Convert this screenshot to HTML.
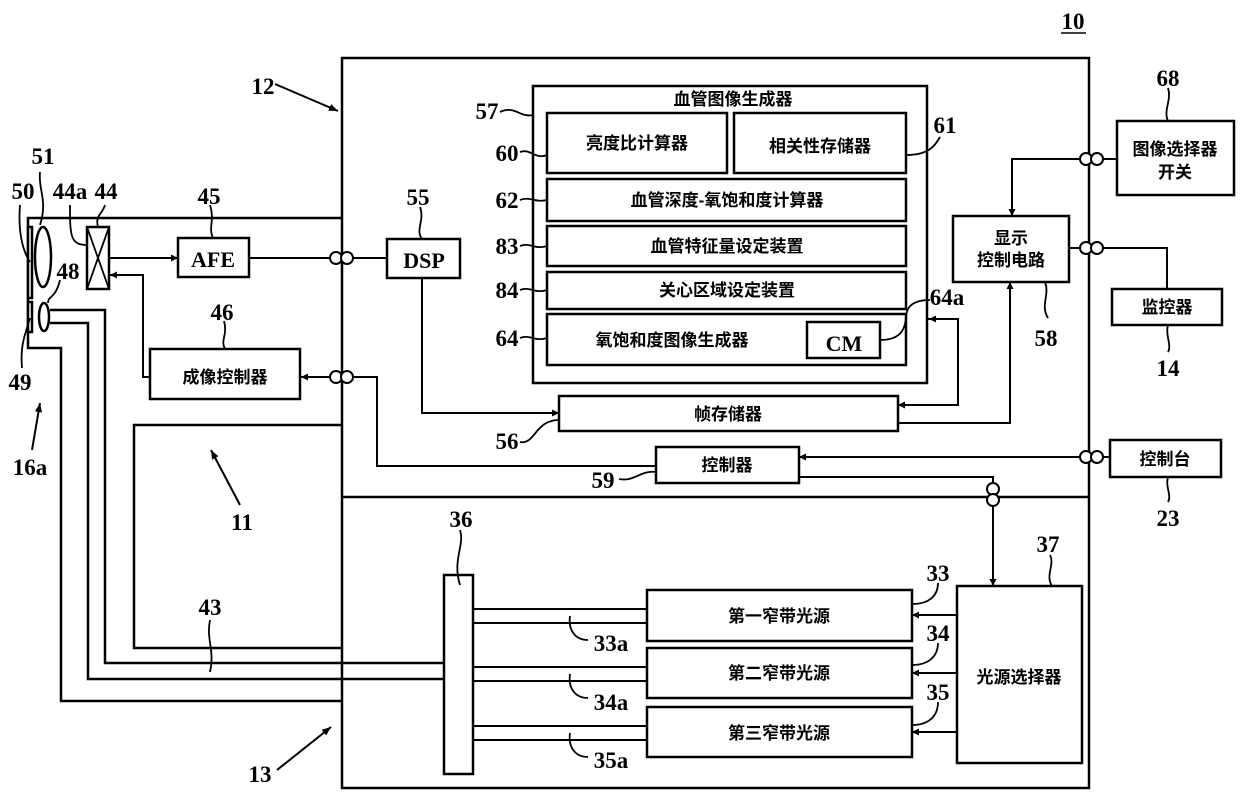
<!DOCTYPE html>
<html><head><meta charset="utf-8"><style>
html,body{margin:0;padding:0;background:#fff;}
svg{display:block;}
.n{font-family:"Liberation Serif",serif;font-weight:bold;font-size:23px;fill:#000;}
.c{font-family:"Liberation Sans","Noto Sans CJK SC",sans-serif;font-weight:bold;font-size:17px;fill:#000;}
</style></head><body>
<svg width="1240" height="802" viewBox="0 0 1240 802" xmlns="http://www.w3.org/2000/svg">
<defs>
<marker id="a" viewBox="0 0 10 10" refX="10" refY="5" markerWidth="9" markerHeight="7" orient="auto" markerUnits="userSpaceOnUse"><path d="M0,0 L10,5 L0,10 z" fill="#000"/></marker>
<marker id="b" viewBox="0 0 10 10" refX="10" refY="5" markerWidth="14" markerHeight="9" orient="auto" markerUnits="userSpaceOnUse"><path d="M0,1 L10,5 L0,9 z" fill="#000"/></marker>
</defs>
<g fill="none" stroke="#000" stroke-width="2.5">
<!-- main box -->
<rect x="342" y="58" width="747" height="730"/>
<line x1="342" y1="497" x2="1089" y2="497"/>
<!-- endoscope -->
<polyline points="342,218 28,218 28,348 61,348 61,701 342,701"/>
<rect x="28" y="227" width="4" height="71" fill="#fff"/>
<rect x="28" y="302" width="4" height="30" fill="#fff"/>
<ellipse cx="43" cy="257" rx="8" ry="30"/>
<ellipse cx="44" cy="317" rx="5" ry="14"/>
<polyline points="50,310 105,310 105,663 444,663"/>
<polyline points="50,323 88,323 88,679 444,679"/>
<polyline points="342,425 134,425 134,648 342,648"/>
<!-- 44 -->
<rect x="87" y="227" width="22" height="62"/>
<line x1="87" y1="227" x2="109" y2="289" stroke-width="1.8"/>
<line x1="109" y1="227" x2="87" y2="289" stroke-width="1.8"/>
<line x1="109" y1="258" x2="178" y2="258" marker-end="url(#a)" stroke-width="2"/>
<rect x="178" y="238" width="71" height="39"/>
<line x1="249" y1="258" x2="335" y2="258" stroke-width="2"/>
<line x1="347" y1="258" x2="387" y2="258" stroke-width="2"/>
<polyline points="150,377 143,377 143,275 110,275" marker-end="url(#a)" stroke-width="2"/>
<rect x="150" y="349" width="150" height="50"/>
<line x1="335" y1="377" x2="301" y2="377" marker-end="url(#a)" stroke-width="2"/>
<polyline points="347,377 377,377 377,466 656,466" stroke-width="2"/>
<!-- DSP -->
<rect x="387" y="239" width="73" height="39"/>
<polyline points="422,278 422,413 559,413" marker-end="url(#a)" stroke-width="2"/>
<!-- 57 -->
<rect x="533" y="86" width="394" height="297"/>
<rect x="547" y="113" width="180" height="60"/>
<rect x="734" y="113" width="172" height="60"/>
<rect x="547" y="179" width="359" height="42"/>
<rect x="547" y="226" width="359" height="40"/>
<rect x="547" y="272" width="359" height="37"/>
<rect x="547" y="314" width="359" height="51"/>
<rect x="807" y="322" width="73" height="36"/>
<!-- frame memory -->
<rect x="559" y="396" width="339" height="35"/>
<rect x="656" y="447" width="143" height="36"/>
<polyline points="927,319 958,319 958,405 898,405" stroke-width="2" marker-end="url(#a)"/>
<line x1="958" y1="319" x2="929" y2="319" stroke-width="2" marker-end="url(#a)"/>
<polyline points="898,423 1010,423 1010,282" stroke-width="2" marker-end="url(#a)"/>
<!-- 58 -->
<rect x="953" y="216" width="116" height="66"/>
<polyline points="1083,159 1012,159 1012,216" stroke-width="2" marker-end="url(#a)"/>
<line x1="1100" y1="159" x2="1117" y2="159" stroke-width="2"/>
<line x1="1069" y1="248" x2="1083" y2="248" stroke-width="2"/>
<polyline points="1100,248 1167,248 1167,289" stroke-width="2"/>
<rect x="1117" y="121" width="117" height="74"/>
<rect x="1112" y="289" width="110" height="36"/>
<rect x="1110" y="440" width="111" height="37"/>
<line x1="1083" y1="457" x2="799" y2="457" stroke-width="2" marker-end="url(#a)"/>
<line x1="1100" y1="457" x2="1110" y2="457" stroke-width="2"/>
<polyline points="799,477 993,477 993,483" stroke-width="2"/>
<line x1="993" y1="506" x2="993" y2="586" stroke-width="2" marker-end="url(#a)"/>
<!-- light -->
<rect x="444" y="575" width="29" height="199"/>
<rect x="647" y="590" width="265" height="51"/>
<rect x="647" y="648" width="265" height="50"/>
<rect x="647" y="707" width="265" height="50"/>
<rect x="957" y="586" width="125" height="177"/>
<g stroke-width="2">
<line x1="473" y1="609" x2="647" y2="609"/><line x1="473" y1="623" x2="647" y2="623"/>
<line x1="473" y1="667" x2="647" y2="667"/><line x1="473" y1="681" x2="647" y2="681"/>
<line x1="473" y1="726" x2="647" y2="726"/><line x1="473" y1="740" x2="647" y2="740"/>
<line x1="957" y1="615" x2="912" y2="615" marker-end="url(#a)"/>
<line x1="957" y1="673" x2="912" y2="673" marker-end="url(#a)"/>
<line x1="957" y1="732" x2="912" y2="732" marker-end="url(#a)"/>
</g>
<!-- connectors -->
<g stroke-width="2" fill="#fff">
<circle cx="336" cy="258" r="6"/><circle cx="347" cy="258" r="6"/>
<circle cx="336" cy="377" r="6"/><circle cx="347" cy="377" r="6"/>
<circle cx="1086" cy="159" r="6"/><circle cx="1097" cy="159" r="6"/>
<circle cx="1086" cy="248" r="6"/><circle cx="1097" cy="248" r="6"/>
<circle cx="1086" cy="457" r="6"/><circle cx="1097" cy="457" r="6"/>
<circle cx="993" cy="489" r="6"/><circle cx="993" cy="500" r="6"/>
</g>
<!-- leaders -->
<g stroke-width="1.8">
<path d="M40,172 C38,190 48,200 40,225"/>
<path d="M20,205 C18,230 22,250 30,262"/>
<path d="M70,205 C70,235 70,245 87,245"/>
<path d="M105,205 C102,215 95,215 98,227"/>
<path d="M60,280 C55,300 48,295 48,303"/>
<path d="M22,368 C20,345 25,335 30,318"/>
<path d="M210,205 C215,220 208,228 213,238"/>
<path d="M420,207 C425,220 415,230 422,239"/>
<path d="M224,321 C228,335 220,340 225,349"/>
<path d="M500,112 C515,105 520,118 533,115"/>
<path d="M520,152 C530,148 535,160 547,155"/>
<path d="M520,200 C530,196 535,203 547,200"/>
<path d="M520,246 C530,242 535,250 547,246"/>
<path d="M520,290 C530,286 535,294 547,290"/>
<path d="M520,338 C530,334 535,342 547,338"/>
<path d="M906,155 C930,155 935,145 940,137"/>
<path d="M880,340 C900,340 905,330 906,318 C906,305 915,300 930,300"/>
<path d="M520,442 C535,445 535,420 559,420"/>
<path d="M619,479 C635,482 640,470 656,472"/>
<path d="M1045,282 C1050,295 1040,305 1048,318"/>
<path d="M1168,88 C1172,100 1163,110 1168,121"/>
<path d="M1168,325 C1165,335 1172,345 1168,352"/>
<path d="M1168,477 C1165,487 1172,495 1168,502"/>
<path d="M1050,555 C1055,565 1045,575 1052,586"/>
<path d="M912,604 C930,604 938,595 938,583"/>
<path d="M912,665 C930,665 938,655 938,643"/>
<path d="M912,725 C930,725 938,715 938,702"/>
<path d="M460,530 C465,545 452,560 460,585"/>
<path d="M570,616 C568,630 575,640 588,640"/>
<path d="M570,674 C568,688 575,698 588,698"/>
<path d="M570,733 C568,747 575,757 588,757"/>
<path d="M210,620 C206,640 215,650 210,672"/>
</g>
<g stroke-width="2">
<line x1="275" y1="84" x2="338" y2="111" marker-end="url(#b)"/>
<line x1="32" y1="450" x2="40" y2="403" marker-end="url(#b)"/>
<line x1="240" y1="505" x2="211" y2="450" marker-end="url(#b)"/>
<line x1="277" y1="770" x2="331" y2="727" marker-end="url(#b)"/>
</g>
<line x1="1061" y1="33" x2="1086" y2="33" stroke-width="1.5"/>
</g>
<!-- numbers -->
<g class="n" text-anchor="middle">
<text x="1073" y="29">10</text>
<text x="263" y="94">12</text>
<text x="43" y="164">51</text>
<text x="23" y="199">50</text>
<text x="70" y="199">44a</text>
<text x="106" y="199">44</text>
<text x="209" y="204">45</text>
<text x="418" y="205">55</text>
<text x="68" y="279">48</text>
<text x="222" y="320">46</text>
<text x="20" y="390">49</text>
<text x="30" y="475">16a</text>
<text x="242" y="530">11</text>
<text x="487" y="119">57</text>
<text x="507" y="161">60</text>
<text x="507" y="208">62</text>
<text x="507" y="254">83</text>
<text x="507" y="298">84</text>
<text x="507" y="346">64</text>
<text x="945" y="133">61</text>
<text x="947" y="305">64a</text>
<text x="507" y="449">56</text>
<text x="603" y="488">59</text>
<text x="1046" y="346">58</text>
<text x="1168" y="86">68</text>
<text x="1168" y="376">14</text>
<text x="1168" y="526">23</text>
<text x="1048" y="552">37</text>
<text x="938" y="581">33</text>
<text x="938" y="641">34</text>
<text x="938" y="700">35</text>
<text x="461" y="527">36</text>
<text x="210" y="615">43</text>
<text x="611" y="651">33a</text>
<text x="611" y="710">34a</text>
<text x="611" y="768">35a</text>
<text x="260" y="782">13</text>
<text x="213" y="267" font-size="22">AFE</text>
<text x="424" y="268" font-size="22">DSP</text>
<text x="844" y="351" font-size="22">CM</text>
</g>
<g class="c" text-anchor="middle">
<text x="733" y="105">血管图像生成器</text>
<text x="637" y="149">亮度比计算器</text>
<text x="820" y="152">相关性存储器</text>
<text x="727" y="206">血管深度-氧饱和度计算器</text>
<text x="727" y="252">血管特征量设定装置</text>
<text x="727" y="296">关心区域设定装置</text>
<text x="672" y="346">氧饱和度图像生成器</text>
<text x="225" y="383">成像控制器</text>
<text x="728" y="420">帧存储器</text>
<text x="727" y="471">控制器</text>
<text x="1011" y="244">显示</text>
<text x="1011" y="266">控制电路</text>
<text x="1175" y="155">图像选择器</text>
<text x="1175" y="178">开关</text>
<text x="1167" y="313">监控器</text>
<text x="1165" y="465">控制台</text>
<text x="779" y="622">第一窄带光源</text>
<text x="779" y="679">第二窄带光源</text>
<text x="779" y="739">第三窄带光源</text>
<text x="1019" y="683">光源选择器</text>
</g>
</svg>
</body></html>
